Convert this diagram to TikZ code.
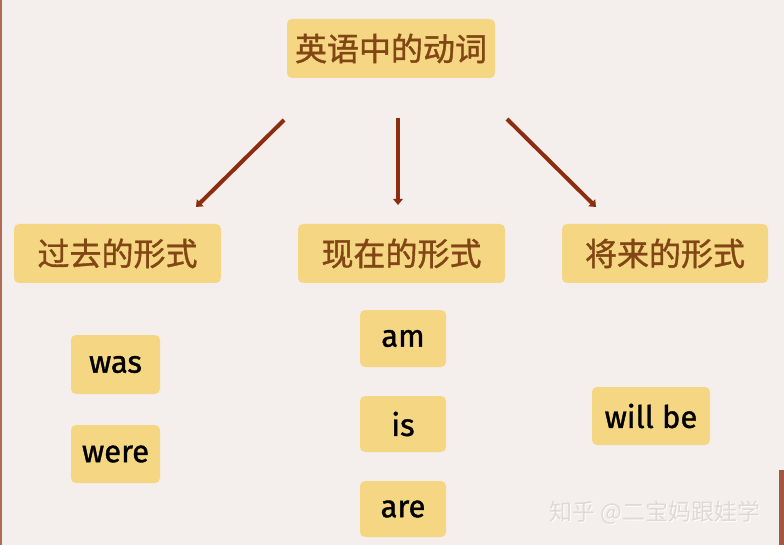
\documentclass[tikz,border=0pt]{standalone}
\usepackage{fontspec}
\setmainfont{Fira Sans}[FakeBold=1.2]
\newfontfamily\cjk{Noto Sans CJK SC}[FakeBold=1.2]
\newfontfamily\cjkwm{Noto Sans CJK SC}
\usetikzlibrary{arrows.meta}
\definecolor{bgc}{RGB}{244,238,236}
\definecolor{boxc}{RGB}{245,214,131}
\definecolor{txtc}{RGB}{130,70,20}
\definecolor{arrc}{RGB}{140,45,15}
\definecolor{wmc}{RGB}{222,216,214}
\begin{document}
\begin{tikzpicture}[x=1pt,y=-1pt,
  box/.style={fill=boxc,rounded corners=5pt,inner sep=0pt},
  cnbox/.style={box,font=\cjk\fontsize{32}{38}\selectfont,text=txtc},
  enbox/.style={box,font=\fontsize{31}{36}\selectfont,text=black},
  arr/.style={draw=arrc,line width=4pt,-{Triangle[width=9.5pt,length=6pt]}}]
\useasboundingbox (0,0) rectangle (784,545);
\fill[bgc] (0,0) rectangle (784,545);
\fill[arrc!70] (0,0) rectangle (2,545);
\fill[arrc!80] (779,470) rectangle (784,545);
\node[cnbox,minimum width=208pt,minimum height=59pt] (top) at (391,48.5) {英语中的动词};
\node[cnbox,minimum width=207pt,minimum height=59pt] (past) at (117.5,253.5) {过去的形式};
\node[cnbox,minimum width=207pt,minimum height=59pt] (pres) at (401.5,253.5) {现在的形式};
\node[cnbox,minimum width=206pt,minimum height=59pt] (fut) at (665,253.5) {将来的形式};
\node[enbox,minimum width=89pt,minimum height=59pt] (was) at (115.5,364.5) {was};
\node[enbox,minimum width=89pt,minimum height=58pt] (were) at (115.5,454) {were};
\node[enbox,minimum width=86pt,minimum height=57pt] (am) at (403,338.5) {am};
\node[enbox,minimum width=86pt,minimum height=56pt] (is) at (403,424) {is};
\node[enbox,minimum width=86pt,minimum height=56pt] (are) at (403,509) {are};
\node[enbox,minimum width=118pt,minimum height=58pt] (willbe) at (651,416) {will be};
\coordinate (s1) at (284,120);
\coordinate (e1) at (196,207);
\coordinate (s2) at (398,118);
\coordinate (e2) at (398,205);
\coordinate (s3) at (507,119);
\coordinate (e3) at (596,207);
\draw[arr] (s1) -- (e1);
\draw[arr] (s2) -- (e2);
\draw[arr] (s3) -- (e3);
\node[font=\cjkwm\fontsize{23}{28}\selectfont,text=white] at (656,514) {知乎 @二宝妈跟娃学};
\node[font=\cjkwm\fontsize{23}{28}\selectfont,text=wmc] (wm) at (655,513) {知乎 @二宝妈跟娃学};
\end{tikzpicture}
\end{document}
